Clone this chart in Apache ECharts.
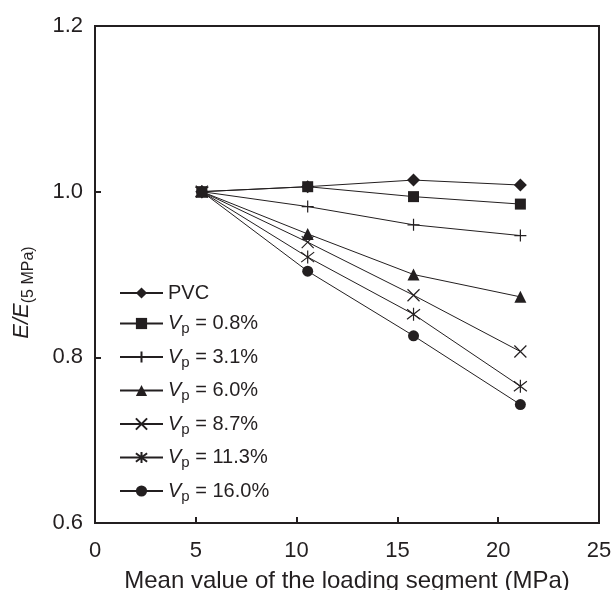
<!DOCTYPE html>
<html>
<head>
<meta charset="utf-8">
<script src="https://cdn.jsdelivr.net/npm/echarts@6/dist/echarts.min.js"></script>
<style>
  html, body { margin: 0; padding: 0; background: #fff; }
  #chart { width: 614px; height: 590px; }
</style>
</head>
<body>
<div id="chart"></div>
<script>
// mean value of loading segment (MPa)
const xValues = [5.3, 10.55, 15.8, 21.1];

const seriesNames = ['PVC', '0.8%', '3.1%', '6.0%', '8.7%', '11.3%', '16.0%'];

const pvc = [1.0, 1.006, 1.014, 1.008];
const vp08 = [1.0, 1.006, 0.994, 0.985];
const vp31 = [1.0, 0.982, 0.960, 0.947];
const vp60 = [1.0, 0.949, 0.900, 0.873];
const vp87 = [1.0, 0.939, 0.875, 0.807];
const vp113 = [1.0, 0.921, 0.852, 0.765];
const vp160 = [1.0, 0.904, 0.826, 0.743];

const xTicks = [0, 5, 10, 15, 20, 25];
const yTicks = [0.6, 0.8, 1.0, 1.2];

const ink = '#231f20';
const font = '"Liberation Sans", Arial, sans-serif';

const seriesValues = [pvc, vp08, vp31, vp60, vp87, vp113, vp160];

const markers = [
    { symbol: 'diamond', size: 13, open: false },
    { symbol: 'rect', size: 11, open: false },
    { symbol: 'path://M5 0L5 10M0 5L10 5', size: 12, open: true },
    { symbol: 'triangle', size: 12, open: false },
    { symbol: 'path://M0 0L10 10M10 0L0 10', size: 12, open: true },
    { symbol: 'path://M0 0L10 10M10 0L0 10M5 -1.5L5 11.5', size: 13, open: true },
    { symbol: 'circle', size: 11, open: false },
];

function fullName(n) {
    return n === 'PVC' ? 'PVC' : 'Vp = ' + n;
}

const chart = echarts.init(document.getElementById('chart'));

const series = seriesNames.map((n, k) => ({
    name: fullName(n),
    type: 'line',
    data: xValues.map((x, i) => [x, seriesValues[k][i]]),
    symbol: markers[k].symbol,
    symbolSize: markers[k].size,
    lineStyle: { color: ink, width: 1 },
    itemStyle: {
        color: markers[k].open ? 'rgba(0,0,0,0)' : ink,
        borderColor: ink,
        borderWidth: markers[k].open ? 1.2 : 0,
    },
    emphasis: { disabled: true },
    z: 3,
}));

const option = {
    backgroundColor: '#fff',
    animation: false,
    textStyle: { fontFamily: font, color: ink },
    grid: {
        left: 95,
        right: 15,
        top: 26,
        bottom: 67,
        outerBoundsMode: 'none',
        show: true,
        borderColor: ink,
        borderWidth: 2,
    },
    legend: {
        orient: 'vertical',
        left: 119,
        top: 283,
        padding: 0,
        itemWidth: 43,
        itemHeight: 14,
        itemGap: 10.5,
        selectedMode: false,
        data: seriesNames.map(fullName),
        formatter: function (name) {
            if (name === 'PVC') return '{n|PVC}';
            return '{i|V}{s|p}{n| = ' + name.replace('Vp = ', '') + '}';
        },
        textStyle: {
            fontFamily: font,
            color: ink,
            fontSize: 20,
            rich: {
                n: { fontSize: 20, lineHeight: 26, fontFamily: font, color: ink },
                i: { fontSize: 20, lineHeight: 26, fontStyle: 'italic', fontFamily: font, color: ink },
                s: { fontSize: 15, verticalAlign: 'bottom', fontFamily: font, color: ink },
            },
        },
    },
    xAxis: {
        type: 'value',
        min: 0,
        max: 25,
        interval: 5,
        name: 'Mean value of the loading segment (MPa)',
        nameLocation: 'middle',
        nameGap: 46,
        nameTextStyle: { fontSize: 24, color: ink, fontFamily: font },
        axisLine: { lineStyle: { color: ink, width: 2 } },
        axisTick: { inside: true, length: 6, lineStyle: { color: ink, width: 2 } },
        axisLabel: {
            fontSize: 22,
            color: ink,
            margin: 17,
            showMinLabel: true,
            showMaxLabel: true,
            formatter: v => (xTicks.includes(v) ? String(v) : ''),
        },
        splitLine: { show: false },
    },
    yAxis: {
        type: 'value',
        min: 0.6,
        max: 1.2,
        interval: 0.2,
        name: '{i|E/E}{s|(5 MPa)}',
        nameLocation: 'middle',
        nameRotate: 90,
        nameGap: 58,
        nameTextStyle: {
            rich: {
                i: { fontSize: 22, lineHeight: 30, fontStyle: 'italic', fontFamily: font, color: ink },
                s: { fontSize: 16, verticalAlign: 'bottom', padding: [0, 36, 0, 0], fontFamily: font, color: ink },
            },
        },
        axisLine: { lineStyle: { color: ink, width: 2 } },
        axisTick: { inside: true, length: 6, lineStyle: { color: ink, width: 2 } },
        axisLabel: {
            fontSize: 22,
            color: ink,
            margin: 12,
            formatter: v => {
                const t = yTicks.find(y => Math.abs(y - v) < 1e-6);
                return t === undefined ? '' : t.toFixed(1);
            },
        },
        splitLine: { show: false },
    },
    series: series,
};

chart.setOption(option);
</script>
</body>
</html>
